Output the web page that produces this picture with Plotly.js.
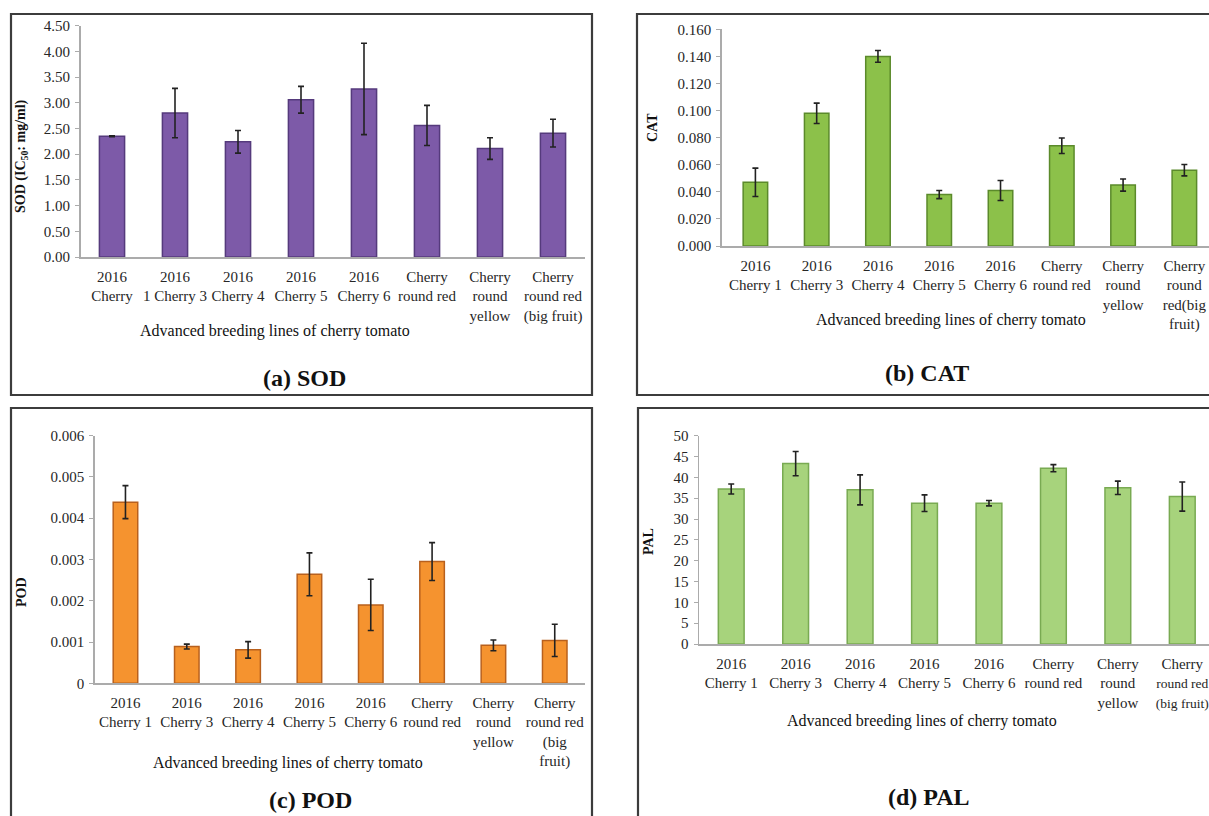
<!DOCTYPE html>
<html>
<head>
<meta charset="utf-8">
<script src="https://cdn.plot.ly/plotly-3.0.1.min.js"></script>
<style>
html,body{margin:0;padding:0;overflow:hidden;background:#fff;}
#chart{width:1240px;height:816px;}
</style>
</head>
<body>
<div id="chart"></div>
<script>
// ---------- data ----------
const categories = ["2016 Cherry 1","2016 Cherry 3","2016 Cherry 4","2016 Cherry 5","2016 Cherry 6","Cherry round red","Cherry round yellow","Cherry round red (big fruit)"];

const sodValues = [2.35, 2.80, 2.24, 3.06, 3.27, 2.56, 2.11, 2.41];
const sodErrors = [0.01, 0.48, 0.22, 0.26, 0.89, 0.39, 0.21, 0.27];

const catValues = [0.047, 0.098, 0.140, 0.038, 0.041, 0.074, 0.045, 0.056];
const catErrors = [0.0105, 0.0075, 0.0043, 0.003, 0.0074, 0.0057, 0.0045, 0.0042];

const podValues = [0.00439, 0.00089, 0.00081, 0.00264, 0.0019, 0.00295, 0.00092, 0.00104];
const podErrors = [0.0004, 0.00006, 0.0002, 0.00052, 0.00062, 0.00046, 0.00013, 0.00039];

const palValues = [37.2, 43.3, 37.0, 33.8, 33.8, 42.2, 37.5, 35.4];
const palErrors = [1.2, 2.9, 3.6, 2.0, 0.65, 0.85, 1.6, 3.5];

const sodTickText = ["2016<br>Cherry","2016<br>1 Cherry 3","2016<br>Cherry 4","2016<br>Cherry 5","2016<br>Cherry 6","Cherry<br>round red","Cherry<br>round<br>yellow","Cherry<br>round red<br>(big fruit)"];
const catTickText = ["2016<br>Cherry 1","2016<br>Cherry 3","2016<br>Cherry 4","2016<br>Cherry 5","2016<br>Cherry 6","Cherry<br>round red","Cherry<br>round<br>yellow","Cherry<br>round<br>red(big<br>fruit)"];
const podTickText = ["2016<br>Cherry 1","2016<br>Cherry 3","2016<br>Cherry 4","2016<br>Cherry 5","2016<br>Cherry 6","Cherry<br>round red","Cherry<br>round<br>yellow","Cherry<br>round red<br>(big<br>fruit)"];
const palTickText = ["2016<br>Cherry 1","2016<br>Cherry 3","2016<br>Cherry 4","2016<br>Cherry 5","2016<br>Cherry 6","Cherry<br>round red","Cherry<br>round<br>yellow","Cherry<br><span style=\"font-size:13.5px\">round red</span><br><span style=\"font-size:13.5px\">(big fruit)</span>"];

const sodTickVals = [0,0.5,1,1.5,2,2.5,3,3.5,4,4.5];
const sodTickLabels = ["0.00","0.50","1.00","1.50","2.00","2.50","3.00","3.50","4.00","4.50"];
const catTickVals = [0,0.02,0.04,0.06,0.08,0.1,0.12,0.14,0.16];
const catTickLabels = ["0.000","0.020","0.040","0.060","0.080","0.100","0.120","0.140","0.160"];
const podTickVals = [0,0.001,0.002,0.003,0.004,0.005,0.006];
const podTickLabels = ["0","0.001","0.002","0.003","0.004","0.005","0.006"];
const palTickVals = [0,5,10,15,20,25,30,35,40,45,50];
const palTickLabels = ["0","5","10","15","20","25","30","35","40","45","50"];

// ---------- layout helpers ----------
const W = 1240, H = 816;
const FONT = "Liberation Serif, Times New Roman, serif";
const px = (a,b) => [a/W, b/W];
const py = (top,bottom) => [1-bottom/H, 1-top/H];

function barTrace(vals, errs, fill, edge, xa, ya){
  return {
    type:'bar', x:categories, y:vals, xaxis:xa, yaxis:ya,
    marker:{color:fill, line:{color:edge, width:1.5}},
    error_y:{type:'data', array:errs, visible:true, color:'#222', thickness:1.6, width:3},
    width:0.4, showlegend:false, hoverinfo:'x+y'
  };
}

const data = [
  barTrace(sodValues, sodErrors, '#7d5aa8', '#553a7c', 'x', 'y'),
  barTrace(catValues, catErrors, '#8cc14a', '#5b8a2b', 'x2', 'y2'),
  barTrace(podValues, podErrors, '#f5932f', '#b8601d', 'x3', 'y3'),
  barTrace(palValues, palErrors, '#a7d37c', '#79aa52', 'x4', 'y4')
];

function xAxis(dom, ticktext, anchor, range){
  return {domain:dom, anchor:anchor, type:'category', range:range||[-0.5,7.5],
    tickmode:'array', tickvals:categories, ticktext:ticktext,
    showline:true, linecolor:'#ababab', linewidth:1.5, ticks:'', showgrid:false, zeroline:false,
    tickfont:{family:FONT, size:15, color:'#262626'}, tickangle:0, fixedrange:true, automargin:false,
    ticklabelstandoff:5};
}
function yAxis(dom, vals, labels, range, anchor){
  return {domain:dom, anchor:anchor, range:range, tickmode:'array', tickvals:vals, ticktext:labels,
    showline:true, linecolor:'#ababab', linewidth:1.5, ticks:'outside', ticklen:4, tickcolor:'#ababab', tickwidth:1,
    showgrid:false, zeroline:false, tickfont:{family:FONT, size:15, color:'#262626'}, fixedrange:true, automargin:false,
    ticklabelstandoff:2};
}

function ann(text, x, y, size, bold, angle){
  return {text: bold ? '<b>'+text+'</b>' : text, xref:'paper', yref:'paper', x:x/W, y:1-y/H,
    xanchor:'center', yanchor:'middle', showarrow:false, textangle:angle||0,
    font:{family:FONT, size:size, color:'#111'}};
}

function frame(x0,y0,x1,y1){
  return {type:'rect', xref:'paper', yref:'paper', x0:x0/W, x1:x1/W, y0:1-y1/H, y1:1-y0/H,
    line:{color:'#3c3c3c', width:2.2}, fillcolor:'rgba(0,0,0,0)', layer:'above'};
}

const layout = {
  width:W, height:H, margin:{l:0,r:0,t:0,b:0}, paper_bgcolor:'#fff', plot_bgcolor:'#fff',
  showlegend:false,
  xaxis: xAxis(px(80.5,584.5), sodTickText, 'y'),
  yaxis: yAxis(py(25.7,257), sodTickVals, sodTickLabels, [0,4.5], 'x'),
  xaxis2: xAxis(px(721.7,1215), catTickText, 'y2', [-0.55,7.5]),
  yaxis2: yAxis(py(29.3,246), catTickVals, catTickLabels, [0,0.16], 'x2'),
  xaxis3: xAxis(px(94.8,585.4), podTickText, 'y3'),
  yaxis3: yAxis(py(435.7,683.3), podTickVals, podTickLabels, [0,0.006], 'x3'),
  xaxis4: xAxis(px(699,1214.5), palTickText, 'y4'),
  yaxis4: yAxis(py(435.7,644), palTickVals, palTickLabels, [0,50], 'x4'),
  shapes:[
    frame(11,14,592,395),
    frame(637,14,1250,395),
    frame(11,408,592,830),
    frame(638,408,1250,830)
  ],
  annotations:[
    ann('Advanced breeding lines of cherry tomato', 275, 331, 16, false),
    ann('Advanced breeding lines of cherry tomato', 951, 320, 16, false),
    ann('Advanced breeding lines of cherry tomato', 288, 763, 16, false),
    ann('Advanced breeding lines of cherry tomato', 922, 721, 16, false),
    ann('(a) SOD', 304, 378, 24, true),
    ann('(b) CAT', 927, 373, 24, true),
    ann('(c) POD', 310, 800, 24, true),
    ann('(d) PAL', 929, 797, 24, true),
    ann('SOD (IC<sub>50</sub>: mg/ml)', 21, 156, 14, true, -90),
    ann('CAT', 652, 128, 14, true, -90),
    ann('POD', 21, 592, 14, true, -90),
    ann('PAL', 648, 542, 14, true, -90)
  ]
};

Plotly.newPlot('chart', data, layout, {displayModeBar:false, staticPlot:true});
</script>
</body>
</html>
